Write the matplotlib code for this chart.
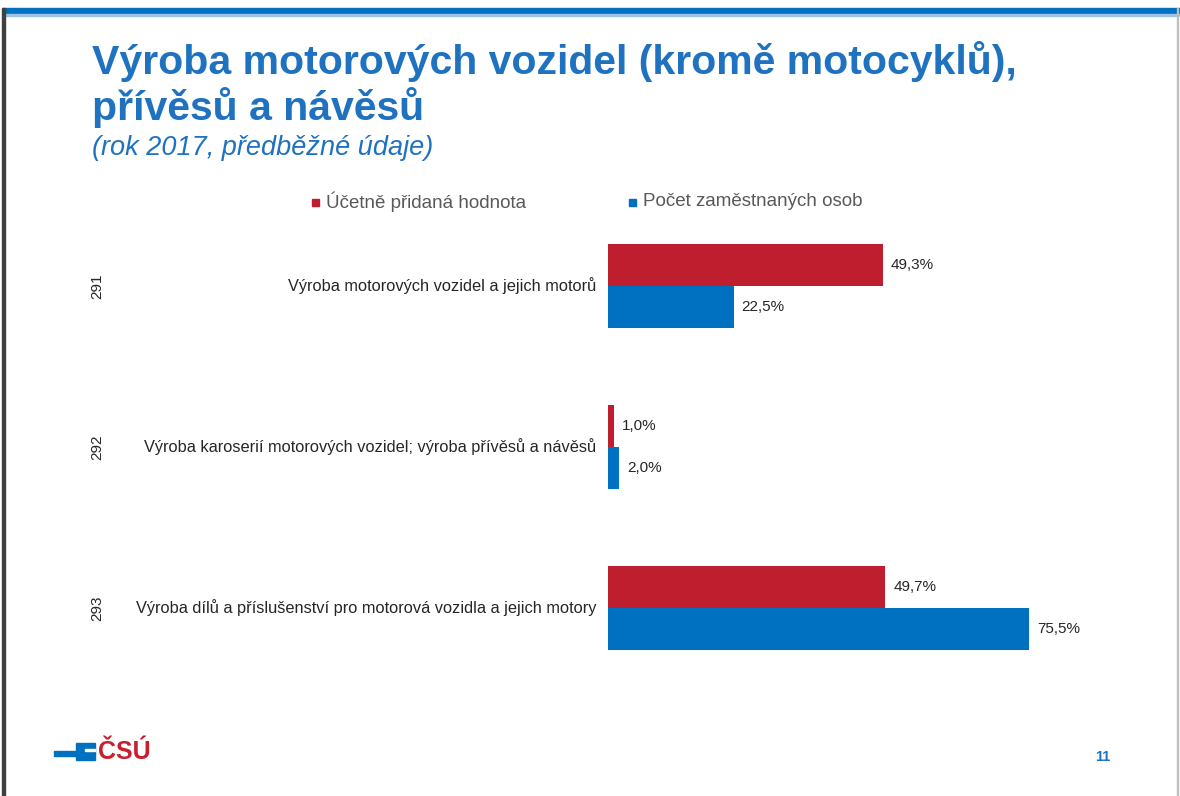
import matplotlib.pyplot as plt
from matplotlib.patches import Rectangle

codes = ["291", "292", "293"]
labels = [
    "Výroba motorových vozidel a jejich motorů",
    "Výroba karoserií motorových vozidel; výroba přívěsů a návěsů",
    "Výroba dílů a příslušenství pro motorová vozidla a jejich motory",
]
added_value = [49.3, 1.0, 49.7]
employees = [22.5, 2.0, 75.5]
series_names = ["Účetně přidaná hodnota", "Počet zaměstnaných osob"]

red = "#BE1E2D"
blue = "#0070C0"
title_blue = "#1F72C0"
gray = "#595959"

W, H = 1180, 796
fig = plt.figure(figsize=(W / 100, H / 100), dpi=100)
plt.rcParams["font.family"] = ["Liberation Sans", "DejaVu Sans"]


def fx(px):
    return px / W


def fy(py):
    return 1 - py / H


def box(x0, y0, x1, y1, col):
    # rectangle given in pixel coords (y from top)
    fig.patches.append(Rectangle((fx(x0), fy(y1)), (x1 - x0) / W, (y1 - y0) / H,
                                 color=col, transform=fig.transFigure))


# slide frame
box(3, 8, 1180, 14, "#0070C0")
box(3, 14, 1180, 16, "#9DC3E6")
box(2, 8, 5, 796, "#404040")
box(1177, 8, 1178, 796, "#bfbfbf")

fig.text(fx(92), fy(62), "Výroba motorových vozidel (kromě motocyklů),",
         fontsize=29.5, fontweight="bold", color=title_blue, va="center")
fig.text(fx(92), fy(107), "přívěsů a návěsů",
         fontsize=29.5, fontweight="bold", color=title_blue, va="center")
fig.text(fx(92), fy(148), "(rok 2017, předběžné údaje)",
         fontsize=19.5, style="italic", color=title_blue, va="center")

# axes: 0 at x=608, 5.58 px per percent
left, right = 608, 608 + 5.58 * 100
top, bottom = 205.5, 688.5
ax = fig.add_axes([fx(left), fy(bottom), (right - left) / W, (bottom - top) / H])
ax.set_xlim(0, 100)
ax.set_ylim(2.5, -0.5)
ax.axis("off")

pos = list(range(len(codes)))
bh = 42 / 161
ax.barh([p - bh / 2 for p in pos], added_value, height=bh, color=red)
ax.barh([p + bh / 2 for p in pos], employees, height=bh, color=blue)

for p, v in zip(pos, added_value):
    ax.annotate(f"{v:.1f}%".replace(".", ","), (v, p - bh / 2), xytext=(8, 0),
                textcoords="offset pixels", va="center", fontsize=11, color="#262626")
for p, v in zip(pos, employees):
    ax.annotate(f"{v:.1f}%".replace(".", ","), (v, p + bh / 2), xytext=(8, 0),
                textcoords="offset pixels", va="center", fontsize=11, color="#262626")

for p, lab, code in zip(pos, labels, codes):
    ax.annotate(lab, (0, p), xytext=(-12, 0), textcoords="offset pixels",
                ha="right", va="center", fontsize=11.8, color="#262626")
    ax.annotate(code, (0, p), xytext=(97 - 608, 0), textcoords="offset pixels",
                ha="center", va="center", fontsize=11, color="#262626", rotation=90)

# legend
for x0, name, col in [(316, series_names[0], red), (633, series_names[1], blue)]:
    box(x0 - 4, 199, x0 + 3, 206, col)
    fig.text(fx(x0 + 10), fy(202), name, fontsize=13.5, color=gray, va="center")

# logo
box(54, 751, 76, 756, blue)
box(76, 743, 95, 760, blue)
box(85, 749, 95, 751, "white")
fig.text(fx(98), fy(752), "ČSÚ", fontsize=18, fontweight="bold", color="#C8202F",
         va="center")
fig.text(fx(1103), fy(757), "11", fontsize=10.5, fontweight="bold", color=title_blue,
         ha="center", va="center")

fig.savefig("out.png", dpi=100)
